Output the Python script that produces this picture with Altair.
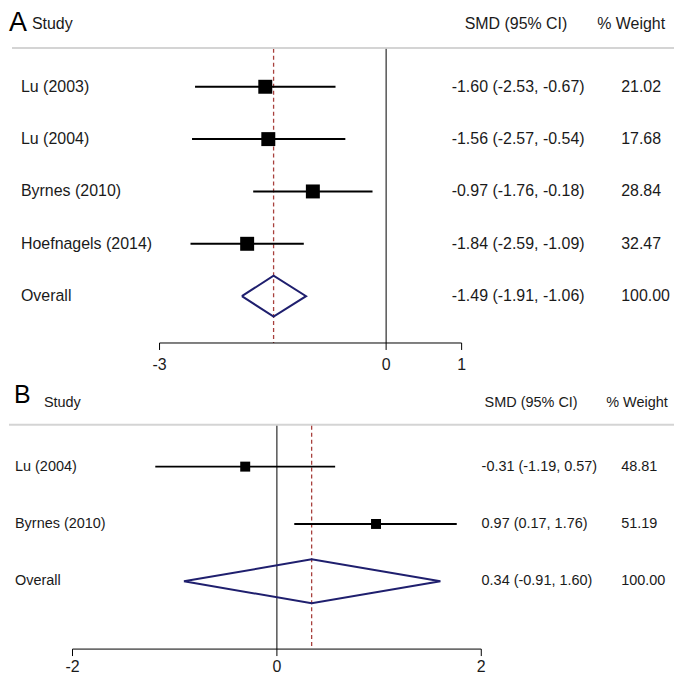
import altair as alt
import pandas as pd

FONT = "Liberation Sans"
TXT = "#1a1a1a"
NAVY = "#1f1f6e"
RED = "#a8403d"
GRAY = "#d4d4d4"

# ---------------- Panel A data ----------------
studies_a = ["Lu (2003)", "Lu (2004)", "Byrnes (2010)", "Hoefnagels (2014)"]
smd_a = [-1.60, -1.56, -0.97, -1.84]
lo_a = [-2.53, -2.57, -1.76, -2.59]
hi_a = [-0.67, -0.54, -0.18, -1.09]
weight_a = ["21.02", "17.68", "28.84", "32.47"]
overall_a = [-1.49, -1.91, -1.06]
overall_w_a = "100.00"
ticks_a = [-3, 0, 1]

# ---------------- Panel B data ----------------
studies_b = ["Lu (2004)", "Byrnes (2010)"]
smd_b = [-0.31, 0.97]
lo_b = [-1.19, 0.17]
hi_b = [0.57, 1.76]
weight_b = ["48.81", "51.19"]
overall_b = [0.34, -0.91, 1.60]
overall_w_b = "100.00"
ticks_b = [-2, 0, 2]

W = 667


def one(**kw):
    return pd.DataFrame({k: [v] for k, v in kw.items()} or {"a": [0]})


def build(letter, studies, smd, lo, hi, weight, overall, overall_w, ticks, g):
    n = len(studies)
    xs = alt.Scale(domain=g["xdom"], nice=False, zero=False)
    ys = alt.Scale(domain=g["ydom"], nice=False, zero=False, reverse=True)

    st = pd.DataFrame({"row": list(range(1, n + 1)), "est": smd, "lo": lo, "hi": hi})
    est_all = smd + [overall[0]]
    lo_all = lo + [overall[1]]
    hi_all = hi + [overall[2]]
    rows = pd.DataFrame({
        "row": list(range(1, n + 2)),
        "label": studies + ["Overall"],
        "ci": [f"{e:.2f} ({l:.2f}, {h:.2f})" for e, l, h in zip(est_all, lo_all, hi_all)],
        "w": weight + [overall_w],
    })
    r = n + 1
    h = g["dh"]
    dia = pd.DataFrame({
        "x": [overall[1], overall[0], overall[2], overall[0], overall[1]],
        "row": [r, r - h, r, r + h, r],
        "o": [0, 1, 2, 3, 4],
    })
    ref = pd.DataFrame({"x": [0.0], "est": [overall[0]]})
    tk = pd.DataFrame({"t": ticks, "lab": [str(t) for t in ticks]})
    ax = pd.DataFrame({"a": [min(ticks)], "b": [max(ticks)]})

    X = lambda f: alt.X(f, scale=xs, axis=None)
    Y = lambda f: alt.Y(f, scale=ys, axis=None)

    layers = []
    # header gray line
    layers.append(alt.Chart(one(a=0)).mark_rule(color=GRAY, strokeWidth=2).encode(
        x=alt.value(g["gx0"]), x2=alt.value(W), y=alt.value(g["gy"])))
    # zero line
    layers.append(alt.Chart(ref).mark_rule(color="black", strokeWidth=1).encode(
        x=X("x:Q"), y=alt.value(g["gy"] + 1), y2=alt.value(g["axy"])))
    # overall dashed line
    layers.append(alt.Chart(ref).mark_rule(color=RED, strokeWidth=1.3, strokeDash=[4, 3]).encode(
        x=X("est:Q"), y=alt.value(g["gy"] + 1), y2=alt.value(g["axy"])))
    # CI lines
    layers.append(alt.Chart(st).mark_rule(color="black", strokeWidth=2).encode(
        x=X("lo:Q"), x2="hi:Q", y=Y("row:Q")))
    # squares
    layers.append(alt.Chart(st).mark_square(color="black", opacity=1, size=g["sq"]).encode(
        x=X("est:Q"), y=Y("row:Q")))
    # diamond
    layers.append(alt.Chart(dia).mark_line(color=NAVY, strokeWidth=2).encode(
        x=X("x:Q"), y=Y("row:Q"), order="o:Q"))
    # text columns
    for field, xpos in (("label", g["lx"]), ("ci", g["cx"]), ("w", g["wx"])):
        layers.append(alt.Chart(rows).mark_text(
            align="left", baseline="middle", font=FONT, fontSize=g["fs"], color=TXT).encode(
            x=alt.value(xpos), y=Y("row:Q"), text=f"{field}:N"))
    # headers
    for txt, xpos in (("Study", g["hsx"]), ("SMD (95% CI)", g["hcx"]), ("% Weight", g["hwx"])):
        layers.append(alt.Chart(one(t=txt)).mark_text(
            align="left", baseline="middle", font=FONT, fontSize=g["hfs"], color=TXT).encode(
            x=alt.value(xpos), y=alt.value(g["hy"]), text="t:N"))
    # panel letter
    layers.append(alt.Chart(one(t=letter)).mark_text(
        align="left", baseline="top", font=FONT, fontSize=g["lfs"], color="black").encode(
        x=alt.value(g["Lx"]), y=alt.value(g["Ly"]), text="t:N"))
    # x axis (drawn manually, spans only the tick range)
    layers.append(alt.Chart(ax).mark_rule(color="black", strokeWidth=1).encode(
        x=X("a:Q"), x2="b:Q", y=alt.value(g["axy"])))
    layers.append(alt.Chart(tk).mark_rule(color="black", strokeWidth=1).encode(
        x=X("t:Q"), y=alt.value(g["axy"]), y2=alt.value(g["axy"] + 7)))
    layers.append(alt.Chart(tk).mark_text(
        align="center", baseline="middle", font=FONT, fontSize=g["afs"], color=TXT).encode(
        x=X("t:Q"), y=alt.value(g["aly"]), text="lab:N"))

    return alt.layer(*layers).properties(width=W, height=g["H"])


geom_a = dict(
    H=370,
    xdom=[-378.25 / 75.75, (W - 378.25) / 75.75],
    ydom=[1 - 78 / 52.5, 1 + (370 - 78) / 52.5],
    dh=20.5 / 52.5, sq=196,
    gx0=3, gy=39, axy=335, aly=357,
    lx=12, cx=444, wx=614, fs=16,
    hsx=23, hcx=457, hwx=590, hy=15, hfs=16,
    Lx=0, Ly=1, lfs=27, afs=16,
)
geom_b = dict(
    H=298,
    xdom=[-268.7 / 102.5, (W - 268.7) / 102.5],
    ydom=[1 - 89 / 57.5, 1 + (298 - 89) / 57.5],
    dh=22 / 57.5, sq=100,
    gx0=0, gy=47, axy=272, aly=290,
    lx=6, cx=474, wx=614, fs=14.5,
    hsx=35, hcx=477, hwx=599, hy=25, hfs=14.5,
    Lx=5, Ly=5, lfs=25, afs=16,
)

panel_a = build("A", studies_a, smd_a, lo_a, hi_a, weight_a, overall_a, overall_w_a, ticks_a, geom_a)
panel_b = build("B", studies_b, smd_b, lo_b, hi_b, weight_b, overall_b, overall_w_b, ticks_b, geom_b)

chart = alt.vconcat(panel_a, panel_b, spacing=0).properties(
    padding=0, background="white"
).configure_view(stroke=None)

chart.save("out.html", embed_options={"renderer": "svg", "actions": False})
